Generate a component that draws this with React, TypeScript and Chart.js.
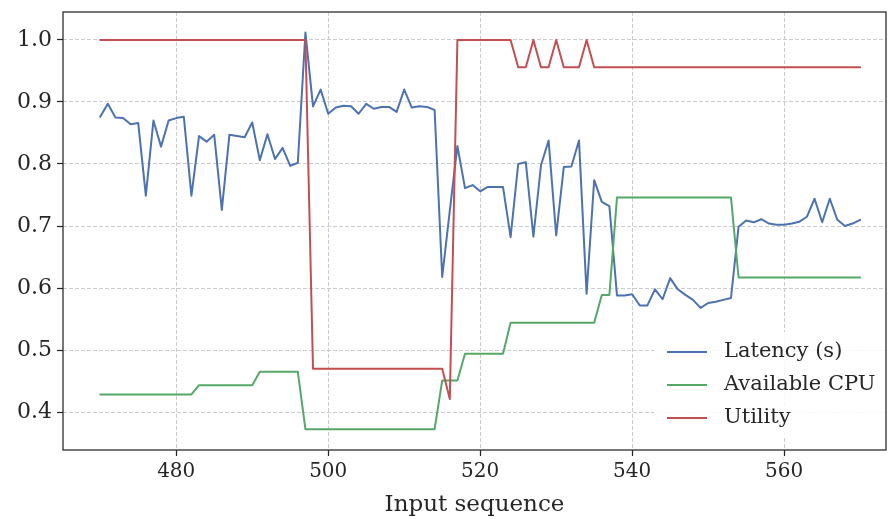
import React, { useEffect, useRef } from 'react';
import { Chart, registerables } from 'chart.js';

Chart.register(...registerables);

const inputSequence = [
  470, 471, 472, 473, 474, 475, 476, 477, 478, 479,
  480, 481, 482, 483, 484, 485, 486, 487, 488, 489,
  490, 491, 492, 493, 494, 495, 496, 497, 498, 499,
  500, 501, 502, 503, 504, 505, 506, 507, 508, 509,
  510, 511, 512, 513, 514, 515, 516, 517, 518, 519,
  520, 521, 522, 523, 524, 525, 526, 527, 528, 529,
  530, 531, 532, 533, 534, 535, 536, 537, 538, 539,
  540, 541, 542, 543, 544, 545, 546, 547, 548, 549,
  550, 551, 552, 553, 554, 555, 556, 557, 558, 559,
  560, 561, 562, 563, 564, 565, 566, 567, 568, 569,
  570,
];

const latency = [
  0.876, 0.897, 0.875, 0.874, 0.864, 0.866, 0.749, 0.870, 0.828, 0.870,
  0.874, 0.876, 0.749, 0.845, 0.836, 0.847, 0.726, 0.847, 0.845, 0.843,
  0.867, 0.806, 0.848, 0.808, 0.826, 0.797, 0.802, 1.012, 0.893, 0.920,
  0.881, 0.891, 0.894, 0.893, 0.881, 0.897, 0.889, 0.892, 0.892, 0.884,
  0.920, 0.891, 0.893, 0.892, 0.887, 0.618, 0.725, 0.829, 0.761, 0.766,
  0.756, 0.763, 0.763, 0.763, 0.682, 0.800, 0.803, 0.683, 0.798, 0.838,
  0.685, 0.795, 0.796, 0.838, 0.591, 0.774, 0.739, 0.732, 0.588, 0.588,
  0.590, 0.572, 0.572, 0.598, 0.582, 0.616, 0.598, 0.589, 0.581, 0.568,
  0.576, 0.578, 0.581, 0.584, 0.699, 0.709, 0.706, 0.711, 0.704, 0.702,
  0.702, 0.704, 0.707, 0.715, 0.744, 0.706, 0.744, 0.710, 0.700, 0.704,
  0.710,
];

const availableCpu = [
  0.4285, 0.4285, 0.4285, 0.4285, 0.4285, 0.4285, 0.4285, 0.4285, 0.4285, 0.4285,
  0.4285, 0.4285, 0.4285, 0.4435, 0.4435, 0.4435, 0.4435, 0.4435, 0.4435, 0.4435,
  0.4435, 0.465, 0.465, 0.465, 0.465, 0.465, 0.465, 0.3726, 0.3726, 0.3726,
  0.3726, 0.3726, 0.3726, 0.3726, 0.3726, 0.3726, 0.3726, 0.3726, 0.3726, 0.3726,
  0.3726, 0.3726, 0.3726, 0.3726, 0.3726, 0.451, 0.451, 0.451, 0.494, 0.494,
  0.494, 0.494, 0.494, 0.494, 0.544, 0.544, 0.544, 0.544, 0.544, 0.544,
  0.544, 0.544, 0.544, 0.544, 0.544, 0.544, 0.589, 0.589, 0.746, 0.746,
  0.746, 0.746, 0.746, 0.746, 0.746, 0.746, 0.746, 0.746, 0.746, 0.746,
  0.746, 0.746, 0.746, 0.746, 0.617, 0.617, 0.617, 0.617, 0.617, 0.617,
  0.617, 0.617, 0.617, 0.617, 0.617, 0.617, 0.617, 0.617, 0.617, 0.617,
  0.617,
];

const utility = [
  1.0, 1.0, 1.0, 1.0, 1.0, 1.0, 1.0, 1.0, 1.0, 1.0,
  1.0, 1.0, 1.0, 1.0, 1.0, 1.0, 1.0, 1.0, 1.0, 1.0,
  1.0, 1.0, 1.0, 1.0, 1.0, 1.0, 1.0, 1.0, 0.47, 0.47,
  0.47, 0.47, 0.47, 0.47, 0.47, 0.47, 0.47, 0.47, 0.47, 0.47,
  0.47, 0.47, 0.47, 0.47, 0.47, 0.47, 0.421, 1.0, 1.0, 1.0,
  1.0, 1.0, 1.0, 1.0, 1.0, 0.956, 0.956, 1.0, 0.956, 0.956,
  1.0, 0.956, 0.956, 0.956, 1.0, 0.956, 0.956, 0.956, 0.956, 0.956,
  0.956, 0.956, 0.956, 0.956, 0.956, 0.956, 0.956, 0.956, 0.956, 0.956,
  0.956, 0.956, 0.956, 0.956, 0.956, 0.956, 0.956, 0.956, 0.956, 0.956,
  0.956, 0.956, 0.956, 0.956, 0.956, 0.956, 0.956, 0.956, 0.956, 0.956,
  0.956,
];

const seriesLabels = ['Latency (s)', 'Available CPU', 'Utility'];
const seriesColors = ['#4C72B0', '#55A868', '#C44E52'];
const xTickValues = [480, 500, 520, 540, 560];
const yTickValues = [0.4, 0.5, 0.6, 0.7, 0.8, 0.9, 1.0];
const xAxisTitle = 'Input sequence';

const FONT = "'DejaVu Serif', 'Liberation Serif', serif";
const TEXT = '#262626';

const overlayPlugin = {
  id: 'overlay',
  afterDraw(chart: any) {
    const { ctx, chartArea: a } = chart;
    ctx.save();
    // legend box (lower right, inside axes)
    const boxL = a.right - 232;
    const boxT = a.bottom - 118;
    ctx.fillStyle = 'rgba(255,255,255,0.85)';
    ctx.fillRect(boxL, boxT, 229, 104);
    chart.data.datasets.forEach((ds: any, i: number) => {
      const y = a.bottom - 98 + i * 33;
      ctx.strokeStyle = ds.borderColor;
      ctx.lineWidth = 2;
      ctx.beginPath();
      ctx.moveTo(a.right - 219, y);
      ctx.lineTo(a.right - 179, y);
      ctx.stroke();
      ctx.fillStyle = TEXT;
      ctx.font = `21px ${FONT}`;
      ctx.textBaseline = 'middle';
      ctx.textAlign = 'left';
      ctx.fillText(ds.label, a.right - 162, y);
    });
    // axes frame
    ctx.strokeStyle = TEXT;
    ctx.lineWidth = 1.25;
    ctx.strokeRect(a.left, a.top, a.right - a.left, a.bottom - a.top);
    ctx.restore();
  },
};

export default function App() {
  const canvasRef = useRef<HTMLCanvasElement>(null);

  useEffect(() => {
    const canvas = canvasRef.current;
    if (!canvas) return;
    const series = [latency, availableCpu, utility];
    const chart = new Chart(canvas, {
      type: 'line',
      data: {
        datasets: series.map((vals, i) => ({
          label: seriesLabels[i],
          data: inputSequence.map((x, j) => ({ x, y: vals[j] })),
          borderColor: seriesColors[i],
          backgroundColor: seriesColors[i],
          borderWidth: 2,
          pointRadius: 0,
          tension: 0,
          fill: false,
          borderJoinStyle: 'round',
          borderCapStyle: 'round',
          order: 3 - i,
        })),
      },
      options: {
        responsive: false,
        animation: false,
        events: [],
        devicePixelRatio: 1,
        layout: { padding: { top: 12, right: 3, left: 0, bottom: 0 } },
        plugins: {
          legend: { display: false },
          tooltip: { enabled: false },
        },
        scales: {
          x: {
            type: 'linear',
            min: 465.1,
            max: 573.4,
            afterBuildTicks: (s: any) => {
              s.ticks = xTickValues.map((v) => ({ value: v }));
            },
            afterFit: (s: any) => {
              s.height = 69;
              s.paddingLeft = 0;
              s.paddingRight = 0;
            },
            grid: {
              color: '#cccccc',
              lineWidth: 1,
              drawTicks: true,
              tickLength: 6,
              tickColor: TEXT,
              tickWidth: 1.25,
              tickBorderDash: [],
            },
            border: { display: false, dash: [4, 2] },
            ticks: {
              color: TEXT,
              font: { family: FONT, size: 20 },
              padding: 4,
              maxRotation: 0,
              autoSkip: false,
              callback: (v: any) => String(v),
            },
            title: {
              display: true,
              text: xAxisTitle,
              color: TEXT,
              font: { family: FONT, size: 23 },
              padding: { top: 0, bottom: 0 },
            },
          },
          y: {
            type: 'linear',
            min: 0.339,
            max: 1.045,
            afterBuildTicks: (s: any) => {
              s.ticks = yTickValues.map((v) => ({ value: v }));
            },
            afterFit: (s: any) => {
              s.width = 63;
              s.paddingTop = 0;
              s.paddingBottom = 0;
            },
            grid: {
              color: '#cccccc',
              lineWidth: 1,
              drawTicks: true,
              tickLength: 6,
              tickColor: TEXT,
              tickWidth: 1.25,
              tickBorderDash: [],
            },
            border: { display: false, dash: [4, 2] },
            ticks: {
              color: TEXT,
              font: { family: FONT, size: 22 },
              padding: 5,
              autoSkip: false,
              callback: (v: any) => Number(v).toFixed(1),
            },
          },
        },
      },
      plugins: [overlayPlugin],
    } as any);
    return () => chart.destroy();
  }, []);

  return (
    <div style={{ position: 'absolute', left: 0, top: 0, width: 889, height: 519, background: '#fff' }}>
      <canvas ref={canvasRef} width={889} height={519} style={{ display: 'block' }} />
    </div>
  );
}
